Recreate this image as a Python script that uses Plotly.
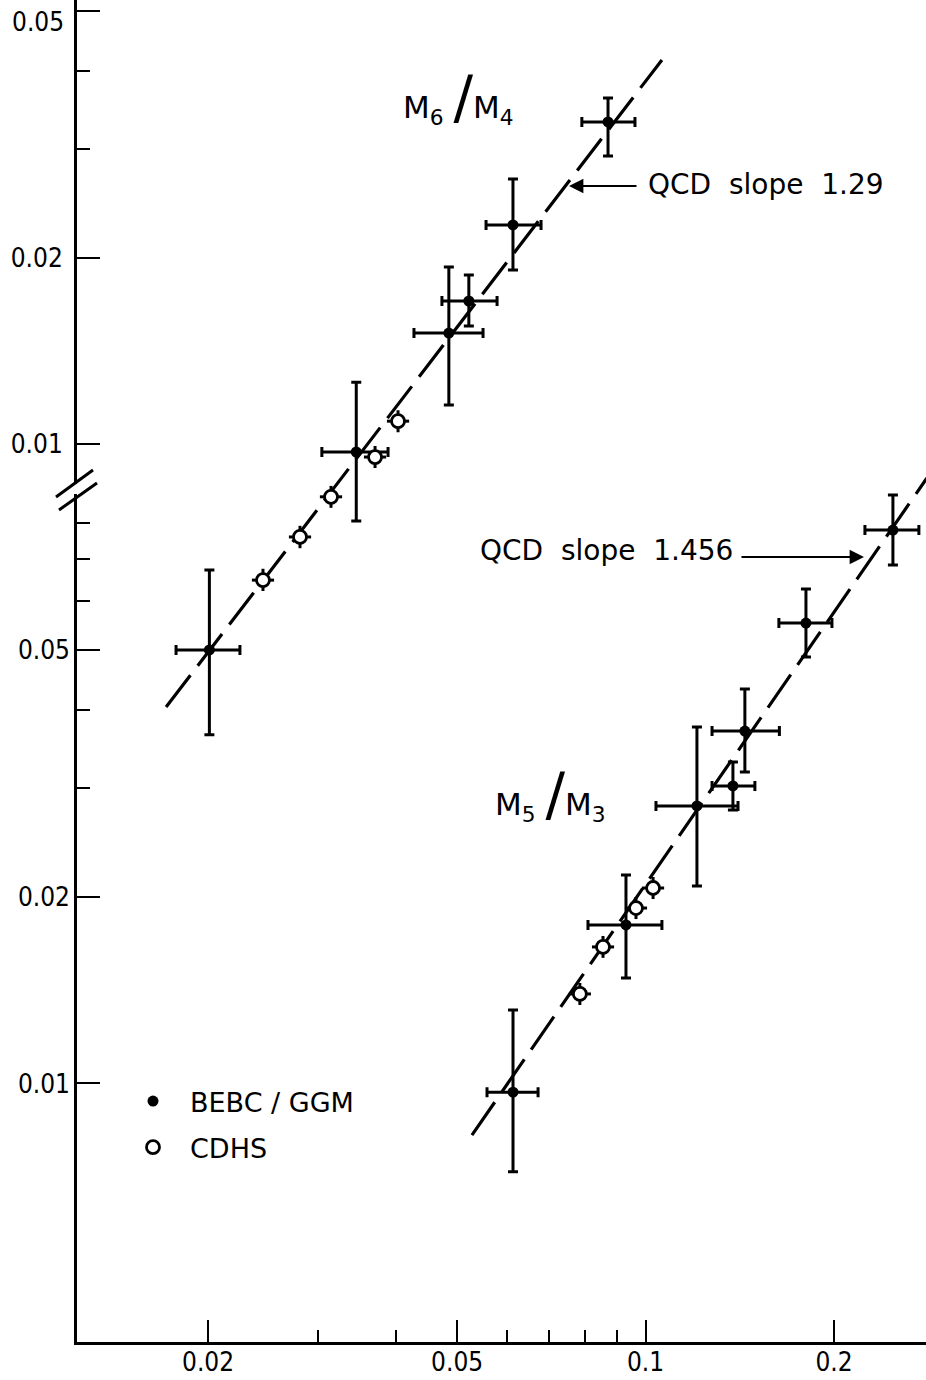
import numpy as np
import plotly.graph_objects as go

# ---------------- data ----------------
x_tick_vals = [0.02, 0.05, 0.1, 0.2]
x_tick_text = ["0.02", "0.05", "0.1", "0.2"]
x_minor_vals = [0.03, 0.04, 0.06, 0.07, 0.08, 0.09]

y_upper_tick_vals = [0.01, 0.02, 0.05]
y_upper_tick_text = ["0.01", "0.02", ""]      # top label "0.05" is drawn lower (see below)
y_upper_top_label = "0.05"
y_upper_minor_vals = [0.03, 0.04]

y_lower_tick_vals = [0.01, 0.02, 0.05]
y_lower_tick_text = ["0.01", "0.02", "0.05"]
y_lower_minor_vals = [0.03, 0.04, 0.06, 0.07, 0.08]

# M6/M4  (upper scale) - BEBC/GGM
m64_bebc_x = [0.0201, 0.0345, 0.0485, 0.0522, 0.0614, 0.0871]
m64_bebc_x_lo = [0.01778, 0.0304, 0.04266, 0.04728, 0.05561, 0.07911]
m64_bebc_x_hi = [0.02249, 0.03878, 0.0550, 0.05791, 0.06808, 0.09618]
m64_bebc_y = [0.00466, 0.00972, 0.01512, 0.01703, 0.02259, 0.03311]
m64_bebc_y_lo = [0.00340, 0.00752, 0.01157, 0.01552, 0.01911, 0.02918]
m64_bebc_y_hi = [0.00627, 0.01260, 0.01932, 0.01876, 0.02679, 0.03620]

# M6/M4 - CDHS
m64_cdhs_x = [0.02448, 0.02805, 0.03144, 0.03697, 0.04023]
m64_cdhs_x_lo = [0.02350, 0.02693, 0.03018, 0.03549, 0.03862]
m64_cdhs_x_hi = [0.02550, 0.02922, 0.03275, 0.03851, 0.04191]
m64_cdhs_y = [0.00604, 0.00709, 0.00823, 0.00954, 0.01090]
m64_cdhs_y_lo = [0.00580, 0.00680, 0.00790, 0.00916, 0.01046]
m64_cdhs_y_hi = [0.00630, 0.00739, 0.00857, 0.00994, 0.01135]

# M5/M3 (lower scale) - BEBC/GGM
m53_bebc_x = [0.06141, 0.09305, 0.1208, 0.1379, 0.1441, 0.1804, 0.2484]
m53_bebc_x_lo = [0.05581, 0.08091, 0.1039, 0.1277, 0.1277, 0.1633, 0.2241]
m53_bebc_x_hi = [0.06734, 0.1062, 0.1405, 0.1495, 0.1636, 0.1985, 0.2733]
m53_bebc_y = [0.00968, 0.01801, 0.02802, 0.03018, 0.03701, 0.05527, 0.07805]
m53_bebc_y_lo = [0.00720, 0.01479, 0.02081, 0.02760, 0.03179, 0.04872, 0.06855]
m53_bebc_y_hi = [0.01313, 0.02168, 0.03756, 0.03300, 0.04326, 0.06271, 0.08892]

# M5/M3 - CDHS
m53_cdhs_x = [0.07853, 0.08551, 0.09654, 0.1028]
m53_cdhs_x_lo = [0.07540, 0.08210, 0.09270, 0.09870]
m53_cdhs_x_hi = [0.08180, 0.08906, 0.10055, 0.10707]
m53_cdhs_y = [0.01394, 0.01660, 0.01918, 0.02066]
m53_cdhs_y_lo = [0.01338, 0.01594, 0.01841, 0.01983]
m53_cdhs_y_hi = [0.01452, 0.01729, 0.01998, 0.02152]

# QCD lines (end points)
m64_qcd_x = [0.01714, 0.1062]
m64_qcd_y = [0.00377, 0.04169]
m53_qcd_x = [0.0528, 0.2815]
m53_qcd_y = [0.008253, 0.09471]

# ---------------- layout helpers ----------------
W, H = 926, 1380
ML, MR, MT, MB = 77, 0, 0, 38
PW, PH = W - ML - MR, H - MT - MB


def px(xp):
    return (xp - ML) / PW


def py(yp):
    return 1 - (yp - MT) / PH


def errs(v, lo, hi):
    v, lo, hi = np.array(v), np.array(lo), np.array(hi)
    return (hi - v).tolist(), (v - lo).tolist()


BLACK = "black"
TXT_FONT = "DejaVu Sans"
NUM_FONT = "DejaVu Sans Condensed"

fig = go.Figure()

dash = "40px,12px"
fig.add_trace(go.Scatter(x=m64_qcd_x, y=m64_qcd_y, mode="lines", yaxis="y",
                         line=dict(color=BLACK, width=3.2, dash=dash),
                         showlegend=False, hoverinfo="skip"))
fig.add_trace(go.Scatter(x=m53_qcd_x, y=m53_qcd_y, mode="lines", yaxis="y2",
                         line=dict(color=BLACK, width=3.2, dash=dash),
                         showlegend=False, hoverinfo="skip"))


def add_points(x, xlo, xhi, y, ylo, yhi, axis, filled, name, show):
    ey_p, ey_m = errs(y, ylo, yhi)
    ex_p, ex_m = errs(x, xlo, xhi)
    if filled:
        marker = dict(symbol="circle", size=11, color=BLACK,
                      line=dict(color=BLACK, width=0))
        cap = 5
    else:
        marker = dict(symbol="circle", size=13, color="white",
                      line=dict(color=BLACK, width=2.8))
        cap = 0
    fig.add_trace(go.Scatter(
        x=x, y=y, mode="markers", yaxis=axis, name=name,
        legendgroup=name, showlegend=show, marker=marker,
        error_y=dict(type="data", symmetric=False, array=ey_p, arrayminus=ey_m,
                     color=BLACK, thickness=3, width=cap),
        error_x=dict(type="data", symmetric=False, array=ex_p, arrayminus=ex_m,
                     color=BLACK, thickness=3, width=cap),
    ))


add_points(m64_bebc_x, m64_bebc_x_lo, m64_bebc_x_hi, m64_bebc_y, m64_bebc_y_lo,
           m64_bebc_y_hi, "y", True, "BEBC / GGM", True)
add_points(m53_bebc_x, m53_bebc_x_lo, m53_bebc_x_hi, m53_bebc_y, m53_bebc_y_lo,
           m53_bebc_y_hi, "y2", True, "BEBC / GGM", False)
add_points(m64_cdhs_x, m64_cdhs_x_lo, m64_cdhs_x_hi, m64_cdhs_y, m64_cdhs_y_lo,
           m64_cdhs_y_hi, "y", False, "CDHS", True)
add_points(m53_cdhs_x, m53_cdhs_x_lo, m53_cdhs_x_hi, m53_cdhs_y, m53_cdhs_y_lo,
           m53_cdhs_y_hi, "y2", False, "CDHS", False)

num_font = dict(family=NUM_FONT, size=26, color=BLACK)

fig.update_layout(
    width=W, height=H,
    margin=dict(l=ML, r=MR, t=MT, b=MB, autoexpand=False),
    paper_bgcolor="white", plot_bgcolor="white",
    showlegend=True,
    legend=dict(x=px(116), y=py(1077), xanchor="left", yanchor="top",
                font=dict(family=TXT_FONT, size=27, color=BLACK),
                bgcolor="rgba(0,0,0,0)", tracegroupgap=8, itemwidth=64),
    xaxis=dict(type="log", range=[-1.9083, -0.552], showgrid=False, zeroline=False,
               automargin=False,
               showline=True, linecolor=BLACK, linewidth=3,
               ticks="inside", ticklen=22, tickwidth=2, tickcolor=BLACK,
               tickvals=x_tick_vals, ticktext=x_tick_text, tickfont=num_font,
               ticklabelstandoff=-5,
               minor=dict(tickvals=x_minor_vals, ticks="inside", ticklen=12,
                          tickwidth=2, tickcolor=BLACK, showgrid=False)),
    yaxis=dict(type="log", range=[-3.4478, -1.2833], showgrid=False, zeroline=False,
               automargin=False,
               showline=True, linecolor=BLACK, linewidth=3,
               ticks="inside", ticklen=23, tickwidth=2, tickcolor=BLACK,
               tickvals=y_upper_tick_vals, ticktext=y_upper_tick_text,
               tickfont=num_font, ticklabelstandoff=6,
               minor=dict(tickvals=y_upper_minor_vals, ticks="inside", ticklen=13,
                          tickwidth=2, tickcolor=BLACK, showgrid=False)),
    yaxis2=dict(type="log", range=[-2.4171, -0.2526], overlaying="y", side="left",
                anchor="x", showgrid=False, zeroline=False, showline=False,
                automargin=False,
                ticks="inside", ticklen=23, tickwidth=2, tickcolor=BLACK,
                tickvals=y_lower_tick_vals, ticktext=y_lower_tick_text,
                tickfont=num_font, ticklabelstandoff=6,
                minor=dict(tickvals=y_lower_minor_vals, ticks="inside", ticklen=13,
                           tickwidth=2, tickcolor=BLACK, showgrid=False)),
)

# top tick label of the upper scale, drawn just below its tick as in the original
fig.add_annotation(xref="paper", yref="paper", x=px(66), y=py(22),
                   xanchor="right", yanchor="middle", showarrow=False,
                   text=y_upper_top_label, font=num_font)

# broken-axis marks
fig.add_shape(type="line", xref="paper", yref="paper", x0=0, x1=0,
              y0=py(484), y1=py(494), line=dict(color="white", width=6),
              layer="above")
for (xa, ya, xb, yb) in [(56, 497, 93, 470), (59, 510, 97, 483)]:
    fig.add_shape(type="line", xref="paper", yref="paper",
                  x0=px(xa), y0=py(ya), x1=px(xb), y1=py(yb),
                  line=dict(color=BLACK, width=3), layer="above")

lab_font = dict(family=TXT_FONT, size=28, color=BLACK)
big_font = dict(family=TXT_FONT, size=31, color=BLACK)
slash = '<span style="font-size:58px">/</span>'
ratio_labels = [
    dict(text="M<sub>6</sub> " + slash + "M<sub>4</sub>", x=px(401), y=py(98)),
    dict(text="M<sub>5</sub> " + slash + "M<sub>3</sub>", x=px(493), y=py(795)),
]
for a in ratio_labels:
    fig.add_annotation(xref="paper", yref="paper", showarrow=False,
                       xanchor="left", yanchor="middle", font=big_font, **a)

slope_labels = [
    dict(text="QCD\u00a0 slope\u00a0 1.29", x=px(646), y=py(185)),
    dict(text="QCD\u00a0 slope\u00a0 1.456", x=px(478), y=py(550)),
]
for a in slope_labels:
    fig.add_annotation(xref="paper", yref="paper", showarrow=False,
                       xanchor="left", yanchor="middle", font=lab_font, **a)

# arrows
for (tail_x, tail_y, tip_x, tip_y) in [(638, 186, 569, 186), (740, 557, 864, 557)]:
    fig.add_annotation(xref="paper", yref="paper", axref="pixel", ayref="pixel",
                       x=px(tip_x), y=py(tip_y), ax=tail_x - tip_x, ay=tail_y - tip_y,
                       text="", showarrow=True, arrowhead=2, arrowsize=1.6,
                       arrowwidth=1.8, arrowcolor=BLACK)

fig.write_html("out.html")
